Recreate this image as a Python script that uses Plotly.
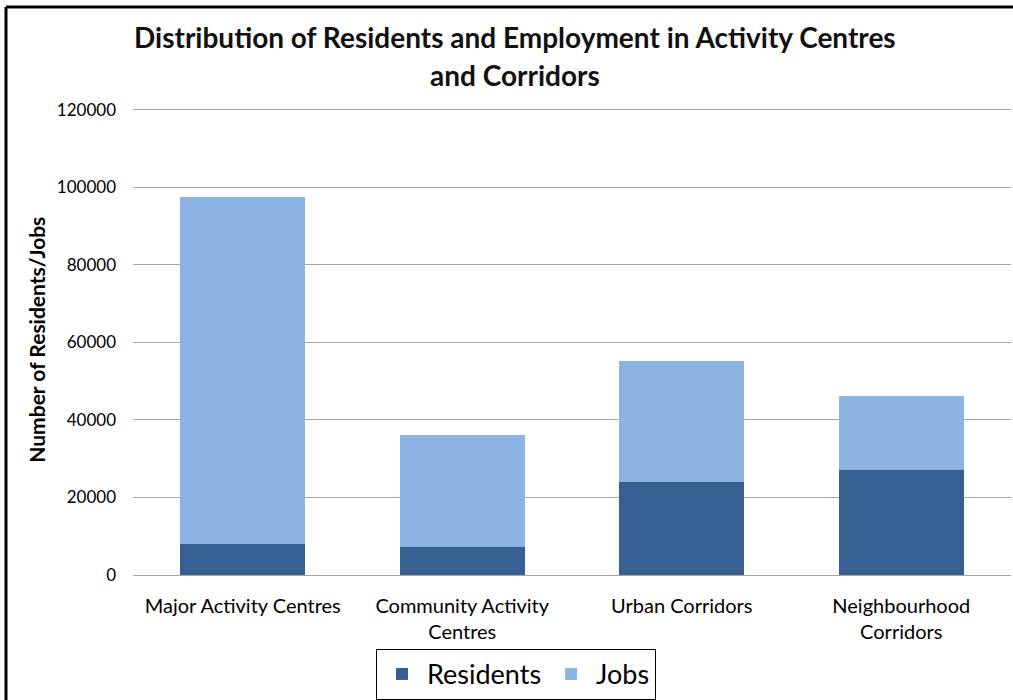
import plotly.graph_objects as go

categories = ["Major Activity Centres", "Community Activity<br>Centres", "Urban Corridors", "Neighbourhood<br>Corridors"]
residents = [8100, 7200, 24000, 27200]
jobs = [89400, 29000, 31300, 19100]
y_ticks = [0, 20000, 40000, 60000, 80000, 100000, 120000]
title_lines = ["Distribution of Residents and Employment in Activity Centres", "and Corridors"]

W, H = 1013, 700
L, R, T, B = 133, 2, 106.1, 124.5
pw, ph = W - L - R, H - T - B

def px(x):
    return (x - L) / pw

def py(y):
    return (H - B - y) / ph

FONT = "Lato"

fig = go.Figure()
fig.add_trace(go.Bar(name="Residents", x=categories, y=residents, marker_color="#376092", marker_line_width=0))
fig.add_trace(go.Bar(name="Jobs", x=categories, y=jobs, marker_color="#8DB3E2", marker_line_width=0))

fig.update_layout(
    width=W, height=H,
    margin=dict(l=L, r=R, t=T, b=B, autoexpand=False),
    barmode="stack", bargap=0.43,
    paper_bgcolor="white", plot_bgcolor="white",
    font=dict(family=FONT, color="#000000"),
    showlegend=True,
    legend=dict(orientation="h", x=px(516), xanchor="center", y=py(675), yanchor="middle",
                traceorder="normal",
                bordercolor="#000000", borderwidth=1, bgcolor="white",
                font=dict(size=27, family=FONT), itemwidth=40, tracegroupgap=0),
    xaxis=dict(showgrid=False, showline=False, ticks="", tickfont=dict(size=20, family=FONT),
               ticklabelstandoff=17),
    yaxis=dict(range=[0, 121000], tickvals=y_ticks, ticktext=[str(v) for v in y_ticks],
               showgrid=True, gridcolor="#A6A6A6", gridwidth=1, zeroline=True, zerolinecolor="#A6A6A6",
               zerolinewidth=1, showline=False, ticks="", tickfont=dict(size=17, family=FONT),
               ticklabelstandoff=16),
)

for line, ypix in zip(title_lines, [37, 75]):
    fig.add_annotation(text="<b>" + line + "</b>",
                       xref="paper", yref="paper", x=px(515), y=py(ypix), xanchor="center", yanchor="middle",
                       showarrow=False, font=dict(size=28, family=FONT, color="#111111"))
fig.add_annotation(text="<b>Number of Residents/Jobs</b>", textangle=-90,
                   xref="paper", yref="paper", x=px(37), y=py(340), xanchor="center", yanchor="middle",
                   showarrow=False, font=dict(size=21, family=FONT, color="#000000"))

# outer frame (left and top edges visible in the reference)
fig.add_shape(type="line", xref="paper", yref="paper", x0=px(6), y0=py(7), x1=px(6), y1=py(720),
              line=dict(color="#000000", width=3), layer="above")
fig.add_shape(type="line", xref="paper", yref="paper", x0=px(6), y0=py(7), x1=px(1040), y1=py(7),
              line=dict(color="#000000", width=3), layer="above")

fig.write_html("out.html", config={"displayModeBar": False},
               post_script="document.documentElement.style.overflow='hidden';document.body.style.margin='0';document.body.style.overflow='hidden';")
